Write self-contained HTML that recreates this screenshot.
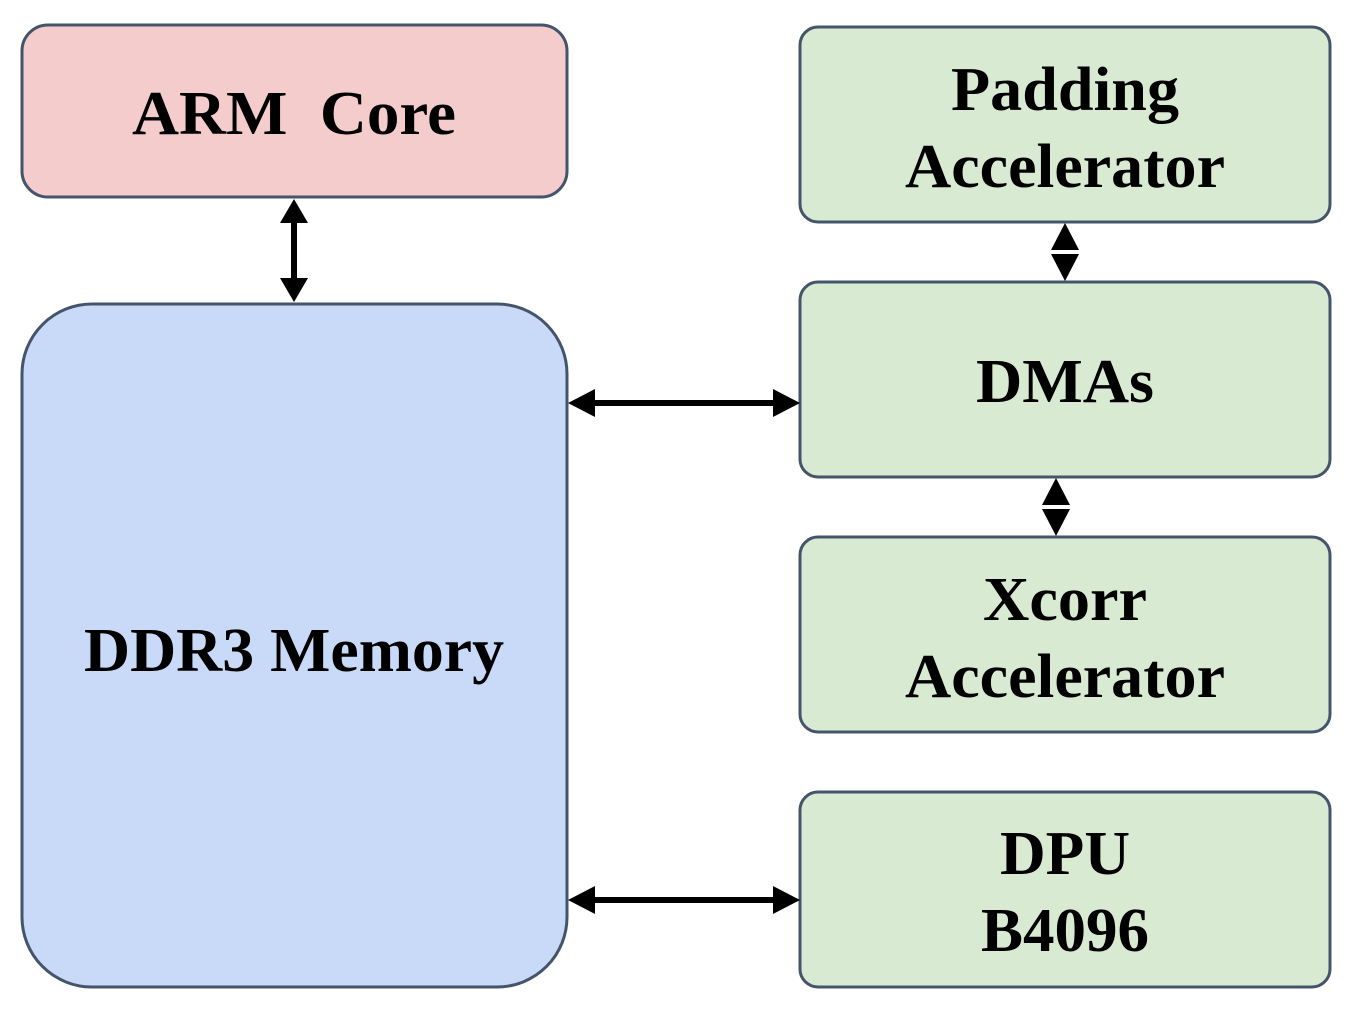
<!DOCTYPE html>
<html><head><style>html,body{margin:0;padding:0;background:#fff}</style></head>
<body>
<svg width="1346" height="1004" viewBox="0 0 1346 1004" xmlns="http://www.w3.org/2000/svg" font-family="'Liberation Serif', serif" font-weight="bold" font-size="62" text-anchor="middle">
<g stroke="#44546a" stroke-width="3">
<rect x="22" y="25" width="545" height="172" rx="26" fill="#f4cccc"/>
<rect x="22" y="304" width="545" height="683" rx="70" fill="#c9daf8"/>
<rect x="800" y="27" width="530" height="195" rx="18" fill="#d9ead3"/>
<rect x="800" y="282" width="530" height="195" rx="18" fill="#d9ead3"/>
<rect x="800" y="537" width="530" height="195" rx="18" fill="#d9ead3"/>
<rect x="800" y="792" width="530" height="195" rx="18" fill="#d9ead3"/>
</g>
<g fill="#000" stroke="#000" stroke-width="6">
<line x1="294" y1="220" x2="294" y2="282"/>
<line x1="590" y1="403" x2="778" y2="403"/>
<line x1="590" y1="900" x2="778" y2="900"/>
</g>
<g fill="#000">
<polygon points="294,199 280,223 308,223"/>
<polygon points="294,302 280,278 308,278"/>
<polygon points="568,403 595,389 595,417"/>
<polygon points="800,403 773,389 773,417"/>
<polygon points="568,900 595,886 595,914"/>
<polygon points="800,900 773,886 773,914"/>
<polygon points="1065,223 1051,250 1079,250"/>
<polygon points="1065,281 1051,254 1079,254"/>
<polygon points="1056,478 1042,505 1070,505"/>
<polygon points="1056,536 1042,509 1070,509"/>
</g>
<g textLength="0">
<text x="294" y="134" xml:space="preserve" textLength="324" lengthAdjust="spacingAndGlyphs">ARM  Core</text>
<text x="294" y="671" textLength="420" lengthAdjust="spacingAndGlyphs">DDR3 Memory</text>
<text x="1065" y="110" textLength="228" lengthAdjust="spacingAndGlyphs">Padding</text>
<text x="1065" y="187" textLength="320" lengthAdjust="spacingAndGlyphs">Accelerator</text>
<text x="1065" y="402" textLength="178" lengthAdjust="spacingAndGlyphs">DMAs</text>
<text x="1065" y="620" textLength="164" lengthAdjust="spacingAndGlyphs">Xcorr</text>
<text x="1065" y="697" textLength="320" lengthAdjust="spacingAndGlyphs">Accelerator</text>
<text x="1065" y="874" textLength="130" lengthAdjust="spacingAndGlyphs">DPU</text>
<text x="1065" y="951" textLength="168" lengthAdjust="spacingAndGlyphs">B4096</text>
</g>
</svg>
</body></html>
